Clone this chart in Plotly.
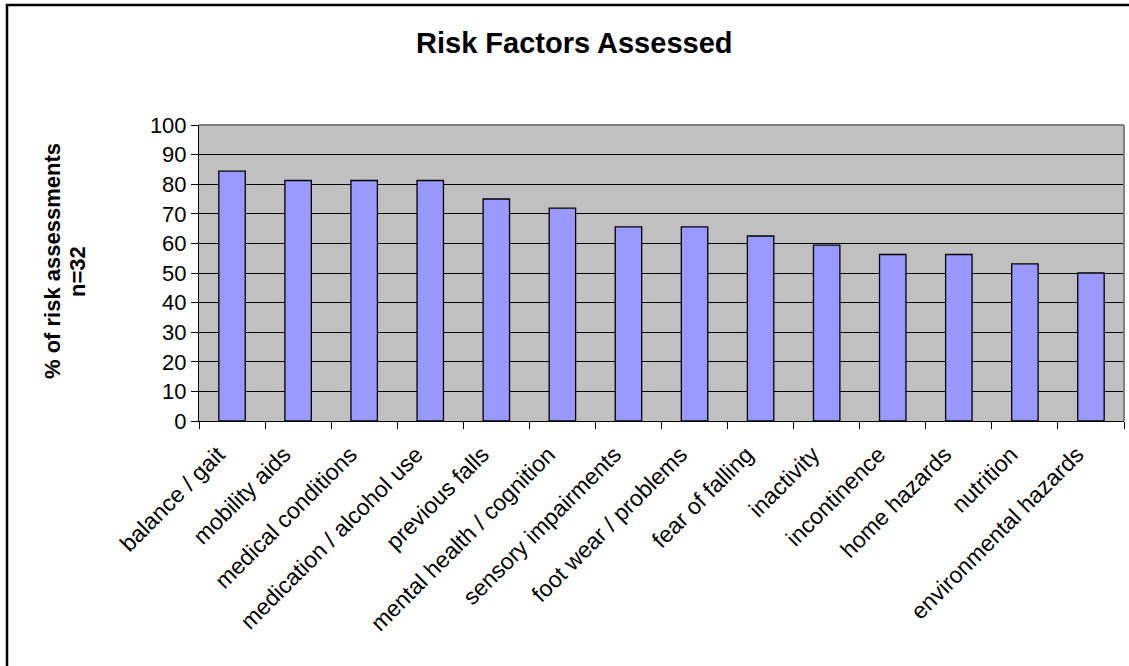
import plotly.graph_objects as go

categories = ["balance / gait", "mobility aids", "medical conditions", "medication / alcohol use",
              "previous falls", "mental health / cognition", "sensory impairments",
              "foot wear / problems", "fear of falling", "inactivity", "incontinence",
              "home hazards", "nutrition", "environmental hazards"]
values = [84.4, 81.25, 81.25, 81.25, 75.0, 71.9, 65.6, 65.6, 62.5, 59.4, 56.25, 56.25, 53.1, 50.0]
y_ticks = [0, 10, 20, 30, 40, 50, 60, 70, 80, 90, 100]

W, H = 1129, 666
L, R, T, B = 199, 5, 125, 245
pw, ph = W - L - R, H - T - B
FONT = "Arial, Liberation Sans, sans-serif"

fig = go.Figure(go.Bar(x=categories, y=values, marker=dict(color="#9999FF", line=dict(color="black", width=1.3)),
                       hoverinfo="x+y"))

def px_x(p):
    return (p - L) / pw

def px_y(p):
    return 1 - (p - T) / ph

fig.update_layout(
    width=W, height=H,
    margin=dict(l=L, r=R, t=T, b=B),
    paper_bgcolor="white", plot_bgcolor="#C0C0C0",
    bargap=0.6, showlegend=False,
    font=dict(family=FONT, color="black", size=22),
    xaxis=dict(type="category", tickson="boundaries", ticks="outside", ticklen=7, tickcolor="black",
               tickwidth=1, showline=True, linecolor="black", linewidth=1, showgrid=False,
               tickangle=-45, tickfont=dict(size=23, family=FONT),
               ticklabelstandoff=10, ticklabelshift=-14),
    yaxis=dict(range=[0, 100], tickvals=y_ticks, ticks="outside", ticklen=7, tickcolor="black",
               showline=True, linecolor="black", linewidth=1, showgrid=True, gridcolor="black",
               gridwidth=1, zeroline=False, tickfont=dict(size=22, family=FONT)),
    annotations=[
        dict(text="<b>Risk Factors Assessed</b>", xref="paper", yref="paper", x=px_x(574), y=px_y(43),
             xanchor="center", yanchor="middle", showarrow=False, font=dict(size=29, family=FONT)),
        dict(text="<b>% of risk assessments</b>", xref="paper", yref="paper", x=px_x(52), y=px_y(261),
             xanchor="center", yanchor="middle", showarrow=False, textangle=-90,
             font=dict(size=22, family=FONT)),
        dict(text="<b>n=32</b>", xref="paper", yref="paper", x=px_x(77), y=px_y(271),
             xanchor="center", yanchor="middle", showarrow=False, textangle=-90,
             font=dict(size=22, family=FONT)),
    ],
    shapes=[
        dict(type="line", xref="paper", yref="paper", x0=0, x1=1, y0=1, y1=1,
             line=dict(color="#808080", width=2)),
        dict(type="line", xref="paper", yref="paper", x0=1, x1=1, y0=0, y1=1,
             line=dict(color="#808080", width=2)),
        dict(type="rect", xref="paper", yref="paper", x0=px_x(7), x1=px_x(W + 10), y0=px_y(H + 10), y1=px_y(5),
             line=dict(color="black", width=2.5), fillcolor="rgba(0,0,0,0)", layer="above"),
    ],
)

fig.write_html("out.html", config={"displayModeBar": False},
               post_script="document.body.style.margin='0px';")
